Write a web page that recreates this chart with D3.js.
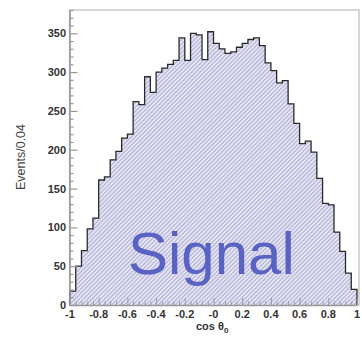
<!DOCTYPE html>
<html>
<head>
<meta charset="utf-8">
<script src="https://cdn.jsdelivr.net/npm/d3@7"></script>
<style>
  body { margin: 0; background: #fff; }
  svg { display: block; }
  .tick-label { font-family: "Liberation Sans", Arial, sans-serif; font-weight: bold; font-size: 11px; fill: #333; }
</style>
</head>
<body>
<svg id="viz" width="362" height="339"></svg>
<script>
'use strict'

// histogram of cos theta, 50 bins of width 0.04 between -1 and 1
const binLow = -1
const binWidth = 0.04
const counts = [18, 50, 70, 98, 112, 161, 165, 187, 198, 215,
  220, 262, 258, 294, 274, 300, 305, 310, 315, 344,
  315, 350, 348, 316, 352, 337, 330, 324, 326, 332,
  337, 342, 344, 334, 312, 302, 286, 289, 259, 234,
  208, 211, 197, 163, 131, 129, 94, 69, 41, 20]

const xTicks = [-1, -0.8, -0.6, -0.4, -0.2, 0, 0.2, 0.4, 0.6, 0.8, 1]
const xTickLabels = ['-1', '-0.8', '-0.6', '-0.4', '-0.2', '-0', '0.2', '0.4', '0.6', '0.8', '1']
const yTicks = [0, 50, 100, 150, 200, 250, 300, 350]

const plot = { left: 70, right: 357, top: 10, bottom: 305 }

const svg = d3.select('#viz')

const x = d3.scaleLinear().domain([-1, 1]).range([plot.left, plot.right])
const y = d3.scaleLinear().domain([0, 380]).range([plot.bottom, plot.top])

// hatch fill
const defs = svg.append('defs')
const pat = defs.append('pattern')
  .attr('id', 'hatch')
  .attr('patternUnits', 'userSpaceOnUse')
  .attr('width', 3)
  .attr('height', 3)
  .attr('patternTransform', 'rotate(45)')
pat.append('rect').attr('width', 3).attr('height', 3).attr('fill', '#e3e3f3')
pat.append('line')
  .attr('x1', 0.5).attr('y1', 0).attr('x2', 0.5).attr('y2', 3)
  .attr('stroke', '#a9a9cf').attr('stroke-width', 0.9)

// frame
svg.append('rect')
  .attr('x', plot.left - 0.5)
  .attr('y', plot.top)
  .attr('width', 359 - plot.left + 0.5)
  .attr('height', plot.bottom - plot.top)
  .attr('fill', 'none')
  .attr('stroke', '#bbb')
  .attr('stroke-width', 1.2)

// step points
const pts = [[binLow, 0]]
counts.forEach((c, i) => {
  pts.push([binLow + i * binWidth, c])
  pts.push([binLow + (i + 1) * binWidth, c])
})
pts.push([binLow + counts.length * binWidth, 0])

const area = d3.area()
  .x(d => x(d[0]))
  .y0(y(0))
  .y1(d => y(d[1]))

svg.append('path')
  .datum(pts)
  .attr('d', area)
  .attr('fill', 'url(#hatch)')

// big label
svg.append('text')
  .attr('x', 128)
  .attr('y', 274)
  .attr('font-family', '"Liberation Sans", Arial, sans-serif')
  .attr('font-size', 60)
  .attr('fill', '#5a62c4')
  .text('Signal')

const line = d3.line()
  .x(d => x(d[0]))
  .y(d => y(d[1]))

svg.append('path')
  .datum(pts)
  .attr('d', line)
  .attr('fill', 'none')
  .attr('stroke', '#2a2a2a')
  .attr('stroke-width', 1.3)

// y axis
const yAxis = d3.axisRight(y)
  .tickValues(d3.range(0, 381, 10))
  .tickSize(0)
  .tickFormat('')
const gy = svg.append('g')
  .attr('transform', 'translate(' + (plot.left - 0.5) + ',0)')
  .call(yAxis)
gy.select('.domain').attr('stroke', '#999').attr('stroke-width', 1.6)
gy.selectAll('.tick line')
  .attr('x2', d => d % 50 === 0 ? 8 : 4)
  .attr('stroke', '#999')
  .attr('stroke-width', 1.2)

svg.selectAll('.ylab')
  .data(yTicks)
  .enter()
  .append('text')
  .attr('class', 'tick-label')
  .attr('x', 66)
  .attr('y', d => y(d) + 4)
  .attr('text-anchor', 'end')
  .text(d => d)

// x axis
const xAxis = d3.axisTop(x)
  .tickValues(d3.range(-1, 1.0001, 0.04))
  .tickSize(0)
  .tickFormat('')
const gx = svg.append('g')
  .attr('transform', 'translate(0,' + plot.bottom + ')')
  .call(xAxis)
gx.select('.domain').attr('stroke', '#999').attr('stroke-width', 1.4)
gx.selectAll('.tick line')
  .attr('y2', (d, i) => i % 5 === 0 ? -7 : -3.5)
  .attr('stroke', '#999')
  .attr('stroke-width', 1)

svg.selectAll('.xlab')
  .data(xTicks)
  .enter()
  .append('text')
  .attr('class', 'tick-label')
  .attr('x', d => x(d))
  .attr('y', 318)
  .attr('text-anchor', 'middle')
  .text((d, i) => xTickLabels[i])

// axis titles
const xt = svg.append('text')
  .attr('class', 'tick-label')
  .attr('x', 196)
  .attr('y', 330)
xt.append('tspan').text('cos θ')
xt.append('tspan').attr('font-size', 8).attr('dy', 3).text('0')

svg.append('text')
  .attr('transform', 'translate(25,157) rotate(-90)')
  .attr('text-anchor', 'middle')
  .attr('font-family', '"Liberation Sans", Arial, sans-serif')
  .attr('font-size', 12.5)
  .attr('fill', '#444')
  .text('Events/0.04')
</script>
</body>
</html>
